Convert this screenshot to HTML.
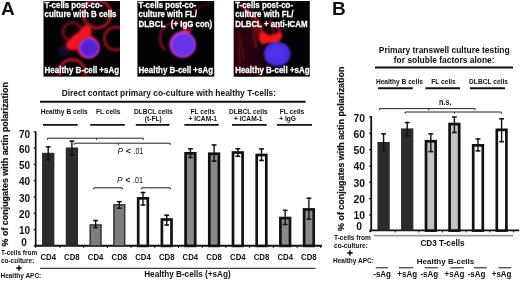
<!DOCTYPE html>
<html><head><meta charset="utf-8"><style>
html,body{margin:0;padding:0;background:#fff;width:520px;height:281px;overflow:hidden}
svg{display:block;font-family:"Liberation Sans", sans-serif;will-change:transform}
</style></head><body>
<svg width="520" height="281" viewBox="0 0 520 281">
<defs>
<filter id="b1" x="-50%" y="-50%" width="200%" height="200%"><feGaussianBlur stdDeviation="0.9"/></filter>
<filter id="b15" x="-50%" y="-50%" width="200%" height="200%"><feGaussianBlur stdDeviation="1.2"/></filter>
<filter id="b3g" x="-50%" y="-50%" width="200%" height="200%"><feGaussianBlur stdDeviation="2.5"/></filter>
<filter id="b2" x="-50%" y="-50%" width="200%" height="200%"><feGaussianBlur stdDeviation="1.6"/></filter>
<filter id="b3" x="-50%" y="-50%" width="200%" height="200%"><feGaussianBlur stdDeviation="6"/></filter>
<clipPath id="clip1"><rect x="43.5" y="1" width="76.5" height="75.6"/></clipPath>
<clipPath id="clip2"><rect x="137.4" y="1" width="76.8" height="75.6"/></clipPath>
<clipPath id="clip3"><rect x="233.8" y="1" width="76.0" height="75.6"/></clipPath>
</defs>
<rect x="43.5" y="1" width="76.5" height="75.6" fill="#050205"/>
<g clip-path="url(#clip1)">
<circle cx="72.2" cy="31.8" r="9.2" fill="none" stroke="#600e1c" stroke-width="3.3" filter="url(#b15)"/>
<circle cx="97" cy="14" r="13.8" fill="none" stroke="#961424" stroke-width="3.3" filter="url(#b15)"/>
<circle cx="115.8" cy="38.5" r="11.5" fill="none" stroke="#82101e" stroke-width="3.3" filter="url(#b15)"/>
<circle cx="72" cy="72.5" r="13" fill="none" stroke="#9a1426" stroke-width="3.3" filter="url(#b15)"/>
<circle cx="63.5" cy="51" r="6" fill="#0e0828" filter="url(#b2)"/>
<path d="M84.5 27.5 C87 27 89.5 28.5 89.5 31 C89.5 34 90 36.5 88 38.5 L83 40 C81 42.5 80.5 46 78 48 C75 49 71 48.5 69 47 C67.5 45.5 68 42.5 70 41 C72 39.5 74 36.5 76.5 35 C79 33.5 81 32 82 30 C82.5 28.5 83.5 27.7 84.5 27.5 Z" fill="#c01020" filter="url(#b3g)" opacity="0.8" transform="translate(80,40) scale(1.2) translate(-80,-40)"/>
<path d="M84.5 27.5 C87 27 89.5 28.5 89.5 31 C89.5 34 90 36.5 88 38.5 L83 40 C81 42.5 80.5 46 78 48 C75 49 71 48.5 69 47 C67.5 45.5 68 42.5 70 41 C72 39.5 74 36.5 76.5 35 C79 33.5 81 32 82 30 C82.5 28.5 83.5 27.7 84.5 27.5 Z" fill="#f01822" filter="url(#b1)" transform="translate(80,40) scale(1.15) translate(-80,-40)"/>
<circle cx="87.6" cy="46.8" r="11.2" fill="#d81626" filter="url(#b15)"/>
<circle cx="89.2" cy="47.9" r="10.4" fill="#c034cc" filter="url(#b1)"/>
<circle cx="89.3" cy="47.9" r="8.8" fill="#5420d4" filter="url(#b1)"/>
</g>
<rect x="137.4" y="1" width="76.79999999999998" height="75.6" fill="#050205"/>
<g clip-path="url(#clip2)">
<path d="M165 50 C159 45 159 35 163 29 C167 23 176 21 183 24 C187 26 190 28 192 31" fill="none" stroke="#6e0c26" stroke-width="2.8" filter="url(#b15)"/>
<path d="M192 12 C198 7 205 4 214 1" fill="none" stroke="#4a0818" stroke-width="2" filter="url(#b1)"/>
<ellipse cx="185.5" cy="32" rx="5" ry="3" fill="#c81a48" filter="url(#b15)"/>
<circle cx="182.6" cy="44.5" r="13.2" fill="#c838d0" filter="url(#b1)"/>
<circle cx="183.4" cy="45" r="11.2" fill="#6832ea" filter="url(#b1)"/>
</g>
<rect x="233.8" y="1" width="76.0" height="75.6" fill="#050205"/>
<g clip-path="url(#clip3)">
<rect x="226" y="24" width="36" height="58" fill="#2a050a" filter="url(#b3)"/>
<path d="M238 44 C239 52 240 60 240 70" fill="none" stroke="#4a0810" stroke-width="3.5" filter="url(#b2)"/>
<path d="M240 4 C246 9 253 15 258 22 C261 27 262 31 262 36" fill="none" stroke="#b00e1c" stroke-width="3.4" filter="url(#b2)"/>
<path d="M253 26 C254 33 255 40 256 48" fill="none" stroke="#6a0a14" stroke-width="3.2" filter="url(#b2)"/>
<path d="M238 30 C240 40 242 50 244 60" fill="none" stroke="#4a070e" stroke-width="3.2" filter="url(#b2)"/>
<path d="M276 25 C279 29 281 34 281 38" fill="none" stroke="#b00c1a" stroke-width="2.6" filter="url(#b1)"/>
<path d="M269 20 C271 25 273 30 274 35" fill="none" stroke="#900c18" stroke-width="2" filter="url(#b1)"/>
<path d="M255 27 C257 31 259 36 261 41" fill="none" stroke="#801018" stroke-width="2.6" filter="url(#b15)"/>
<path d="M259.5 35 C260 31 263.5 31 266 33.5 C269 35.5 274 35 277 32.5 C279 31 282 32 281.5 36 C281 40 279 43 276 44.5 C271 42.5 265.5 42.5 263 44.5 C260 43.5 259 39 259.5 35 Z" fill="#f0141c" filter="url(#b15)"/>
<ellipse cx="277.2" cy="54" rx="13.3" ry="12.2" fill="#4a2ee0" filter="url(#b1)"/>
<circle cx="276.5" cy="53" r="7" fill="#5038f0" filter="url(#b2)" opacity="0.7"/>
</g>
<text transform="translate(44.6,7.6) scale(1,1.12)" font-size="7.9" font-weight="bold" fill="#fff" stroke="#fff" stroke-width="0.25">T-cells post-co-</text>
<text transform="translate(44.6,17.1) scale(1,1.12)" font-size="7.9" font-weight="bold" fill="#fff" stroke="#fff" stroke-width="0.25">culture with B cells</text>
<text transform="translate(44.6,72.6) scale(1,1.12)" font-size="7.95" font-weight="bold" fill="#fff" stroke="#fff" stroke-width="0.25">Healthy B-cell +sAg</text>
<text transform="translate(138.6,7.6) scale(1,1.12)" font-size="7.9" font-weight="bold" fill="#fff" stroke="#fff" stroke-width="0.25">T-cells post-co-</text>
<text transform="translate(138.6,17.1) scale(1,1.12)" font-size="7.9" font-weight="bold" fill="#fff" stroke="#fff" stroke-width="0.25">culture with FL/</text>
<text transform="translate(138.6,26.6) scale(1,1.12)" font-size="7.9" font-weight="bold" fill="#fff" stroke="#fff" stroke-width="0.25">DLBCL</text>
<text transform="translate(138.6,72.6) scale(1,1.12)" font-size="7.95" font-weight="bold" fill="#fff" stroke="#fff" stroke-width="0.25">Healthy B-cell +sAg</text>
<text transform="translate(235.2,7.6) scale(1,1.12)" font-size="7.9" font-weight="bold" fill="#fff" stroke="#fff" stroke-width="0.25">T-cells post-co-</text>
<text transform="translate(235.2,17.1) scale(1,1.12)" font-size="7.9" font-weight="bold" fill="#fff" stroke="#fff" stroke-width="0.25">culture with FL/</text>
<text transform="translate(235.2,26.6) scale(1,1.12)" font-size="7.9" font-weight="bold" fill="#fff" stroke="#fff" stroke-width="0.25">DLBCL + anti-ICAM</text>
<text transform="translate(235.2,72.6) scale(1,1.12)" font-size="7.95" font-weight="bold" fill="#fff" stroke="#fff" stroke-width="0.25">Healthy B-cell +sAg</text>
<text transform="translate(170.8,26.6) scale(1,1.12)" font-size="7.9" font-weight="bold" fill="#fff" stroke="#fff" stroke-width="0.25">(+ IgG con)</text>
<text x="1.0" y="14.8" font-size="19.0" font-weight="bold" text-anchor="start" fill="#111" >A</text>
<text x="332.0" y="14.8" font-size="19.0" font-weight="bold" text-anchor="start" fill="#111" >B</text>
<line x1="35.7" y1="131.3" x2="35.7" y2="246.6" stroke="#111" stroke-width="1.7"/>
<line x1="33.7" y1="131.8" x2="35.7" y2="131.8" stroke="#111" stroke-width="1.2"/>
<text x="24.6" y="137.8" font-size="10" font-weight="bold" text-anchor="middle" fill="#111" >70</text>
<line x1="33.7" y1="148.10000000000002" x2="35.7" y2="148.10000000000002" stroke="#111" stroke-width="1.2"/>
<text x="24.6" y="152.70000000000002" font-size="10" font-weight="bold" text-anchor="middle" fill="#111" >60</text>
<line x1="33.7" y1="164.4" x2="35.7" y2="164.4" stroke="#111" stroke-width="1.2"/>
<text x="24.6" y="169.0" font-size="10" font-weight="bold" text-anchor="middle" fill="#111" >50</text>
<line x1="33.7" y1="180.70000000000002" x2="35.7" y2="180.70000000000002" stroke="#111" stroke-width="1.2"/>
<text x="24.6" y="185.3" font-size="10" font-weight="bold" text-anchor="middle" fill="#111" >40</text>
<line x1="33.7" y1="197.0" x2="35.7" y2="197.0" stroke="#111" stroke-width="1.2"/>
<text x="24.6" y="201.6" font-size="10" font-weight="bold" text-anchor="middle" fill="#111" >30</text>
<line x1="33.7" y1="213.3" x2="35.7" y2="213.3" stroke="#111" stroke-width="1.2"/>
<text x="24.6" y="217.9" font-size="10" font-weight="bold" text-anchor="middle" fill="#111" >20</text>
<line x1="33.7" y1="229.60000000000002" x2="35.7" y2="229.60000000000002" stroke="#111" stroke-width="1.2"/>
<text x="24.6" y="234.20000000000002" font-size="10" font-weight="bold" text-anchor="middle" fill="#111" >10</text>
<line x1="33.7" y1="245.90000000000003" x2="35.7" y2="245.90000000000003" stroke="#111" stroke-width="1.2"/>
<text x="24.0" y="245.9" font-size="10" font-weight="bold" text-anchor="middle" fill="#111" >0</text>
<line x1="34.8" y1="245.8" x2="322" y2="245.8" stroke="#111" stroke-width="1.9"/>
<line x1="60.0" y1="245.9" x2="60.0" y2="247.9" stroke="#111" stroke-width="1"/>
<line x1="83.7" y1="245.9" x2="83.7" y2="247.9" stroke="#111" stroke-width="1"/>
<line x1="107.4" y1="245.9" x2="107.4" y2="247.9" stroke="#111" stroke-width="1"/>
<line x1="131.1" y1="245.9" x2="131.1" y2="247.9" stroke="#111" stroke-width="1"/>
<line x1="154.8" y1="245.9" x2="154.8" y2="247.9" stroke="#111" stroke-width="1"/>
<line x1="178.5" y1="245.9" x2="178.5" y2="247.9" stroke="#111" stroke-width="1"/>
<line x1="202.2" y1="245.9" x2="202.2" y2="247.9" stroke="#111" stroke-width="1"/>
<line x1="225.9" y1="245.9" x2="225.9" y2="247.9" stroke="#111" stroke-width="1"/>
<line x1="249.6" y1="245.9" x2="249.6" y2="247.9" stroke="#111" stroke-width="1"/>
<line x1="273.29999999999995" y1="245.9" x2="273.29999999999995" y2="247.9" stroke="#111" stroke-width="1"/>
<line x1="297.0" y1="245.9" x2="297.0" y2="247.9" stroke="#111" stroke-width="1"/>
<line x1="320.7" y1="245.9" x2="320.7" y2="247.9" stroke="#111" stroke-width="1"/>
<line x1="35.6" y1="245.9" x2="35.6" y2="247.9" stroke="#111" stroke-width="1"/>
<rect x="42.050000000000004" y="152.8" width="12.3" height="93.1" fill="#2b2b2b"/>
<line x1="48.2" y1="146.1" x2="48.2" y2="160.6" stroke="#111" stroke-width="1.4"/>
<line x1="45.800000000000004" y1="146.85" x2="50.6" y2="146.85" stroke="#111" stroke-width="1.5"/>
<line x1="45.800000000000004" y1="159.85" x2="50.6" y2="159.85" stroke="#111" stroke-width="1.5"/>
<rect x="65.75" y="147.5" width="12.3" height="98.4" fill="#2b2b2b"/>
<line x1="71.9" y1="140.4" x2="71.9" y2="156" stroke="#111" stroke-width="1.4"/>
<line x1="69.5" y1="141.15" x2="74.30000000000001" y2="141.15" stroke="#111" stroke-width="1.5"/>
<line x1="69.5" y1="155.25" x2="74.30000000000001" y2="155.25" stroke="#111" stroke-width="1.5"/>
<rect x="90.19999999999999" y="224.95" width="10.8" height="20.950000000000017" fill="#7d7d7d" stroke="#333" stroke-width="1.5"/>
<line x1="95.6" y1="219.8" x2="95.6" y2="228.3" stroke="#111" stroke-width="1.4"/>
<line x1="93.19999999999999" y1="220.55" x2="98.0" y2="220.55" stroke="#111" stroke-width="1.5"/>
<line x1="93.19999999999999" y1="227.55" x2="98.0" y2="227.55" stroke="#111" stroke-width="1.5"/>
<rect x="113.89999999999999" y="204.85" width="10.8" height="41.05000000000001" fill="#7d7d7d" stroke="#333" stroke-width="1.5"/>
<line x1="119.3" y1="200.9" x2="119.3" y2="208.9" stroke="#111" stroke-width="1.4"/>
<line x1="116.89999999999999" y1="201.65" x2="121.7" y2="201.65" stroke="#111" stroke-width="1.5"/>
<line x1="116.89999999999999" y1="208.15" x2="121.7" y2="208.15" stroke="#111" stroke-width="1.5"/>
<rect x="138.2" y="198.35" width="9.600000000000001" height="47.550000000000004" fill="#fff" stroke="#111" stroke-width="2.7"/>
<line x1="143.0" y1="191.8" x2="143.0" y2="205.7" stroke="#111" stroke-width="1.4"/>
<line x1="140.6" y1="192.55" x2="145.4" y2="192.55" stroke="#111" stroke-width="1.5"/>
<line x1="140.6" y1="204.95" x2="145.4" y2="204.95" stroke="#111" stroke-width="1.5"/>
<rect x="161.89999999999998" y="219.54999999999998" width="9.600000000000001" height="26.350000000000016" fill="#fff" stroke="#111" stroke-width="2.7"/>
<line x1="166.7" y1="214.5" x2="166.7" y2="225.7" stroke="#111" stroke-width="1.4"/>
<line x1="164.29999999999998" y1="215.25" x2="169.1" y2="215.25" stroke="#111" stroke-width="1.5"/>
<line x1="164.29999999999998" y1="224.95" x2="169.1" y2="224.95" stroke="#111" stroke-width="1.5"/>
<rect x="185.59999999999997" y="153.35" width="9.600000000000001" height="92.55000000000001" fill="#8a8a8a" stroke="#111" stroke-width="2.7"/>
<line x1="190.39999999999998" y1="148" x2="190.39999999999998" y2="158.2" stroke="#111" stroke-width="1.4"/>
<line x1="187.99999999999997" y1="148.75" x2="192.79999999999998" y2="148.75" stroke="#111" stroke-width="1.5"/>
<line x1="187.99999999999997" y1="157.45" x2="192.79999999999998" y2="157.45" stroke="#111" stroke-width="1.5"/>
<rect x="209.3" y="153.75" width="9.600000000000001" height="92.15" fill="#8a8a8a" stroke="#111" stroke-width="2.7"/>
<line x1="214.10000000000002" y1="144.2" x2="214.10000000000002" y2="161.9" stroke="#111" stroke-width="1.4"/>
<line x1="211.70000000000002" y1="144.95" x2="216.50000000000003" y2="144.95" stroke="#111" stroke-width="1.5"/>
<line x1="211.70000000000002" y1="161.15" x2="216.50000000000003" y2="161.15" stroke="#111" stroke-width="1.5"/>
<rect x="233.0" y="152.54999999999998" width="9.600000000000001" height="93.35000000000002" fill="#fff" stroke="#111" stroke-width="2.7"/>
<line x1="237.8" y1="148" x2="237.8" y2="157" stroke="#111" stroke-width="1.4"/>
<line x1="235.4" y1="148.75" x2="240.20000000000002" y2="148.75" stroke="#111" stroke-width="1.5"/>
<line x1="235.4" y1="156.25" x2="240.20000000000002" y2="156.25" stroke="#111" stroke-width="1.5"/>
<rect x="256.7" y="155.04999999999998" width="9.600000000000001" height="90.85000000000002" fill="#fff" stroke="#111" stroke-width="2.7"/>
<line x1="261.5" y1="148.2" x2="261.5" y2="161.2" stroke="#111" stroke-width="1.4"/>
<line x1="259.1" y1="148.95" x2="263.9" y2="148.95" stroke="#111" stroke-width="1.5"/>
<line x1="259.1" y1="160.45" x2="263.9" y2="160.45" stroke="#111" stroke-width="1.5"/>
<rect x="280.40000000000003" y="218.04999999999998" width="9.600000000000001" height="27.850000000000016" fill="#8a8a8a" stroke="#111" stroke-width="2.7"/>
<line x1="285.2" y1="209.6" x2="285.2" y2="225.2" stroke="#111" stroke-width="1.4"/>
<line x1="282.8" y1="210.35" x2="287.59999999999997" y2="210.35" stroke="#111" stroke-width="1.5"/>
<line x1="282.8" y1="224.45" x2="287.59999999999997" y2="224.45" stroke="#111" stroke-width="1.5"/>
<rect x="304.1" y="209.45" width="9.600000000000001" height="36.45000000000001" fill="#8a8a8a" stroke="#111" stroke-width="2.7"/>
<line x1="308.9" y1="197.5" x2="308.9" y2="219.9" stroke="#111" stroke-width="1.4"/>
<line x1="306.5" y1="198.25" x2="311.29999999999995" y2="198.25" stroke="#111" stroke-width="1.5"/>
<line x1="306.5" y1="219.15" x2="311.29999999999995" y2="219.15" stroke="#111" stroke-width="1.5"/>
<path d="M47.6 139.79999999999998 V138.2 H143.3 V139.79999999999998" fill="none" stroke="#222" stroke-width="1"/>
<line x1="96.5" y1="138.2" x2="96.5" y2="139.79999999999998" stroke="#222" stroke-width="1"/>
<path d="M74.3 144.79999999999998 V143.2 H170.2 V144.79999999999998" fill="none" stroke="#222" stroke-width="1"/>
<line x1="118.5" y1="143.2" x2="118.5" y2="144.79999999999998" stroke="#222" stroke-width="1"/>
<path d="M93.8 189.4 V187.8 H122.3 V189.4" fill="none" stroke="#222" stroke-width="1"/>
<path d="M141.8 189.4 V187.8 H170.3 V189.4" fill="none" stroke="#222" stroke-width="1"/>
<text y="154.2" font-size="8.4" fill="#111"><tspan x="117.4" font-style="italic">P</tspan><tspan x="125.9" font-weight="bold">&lt;</tspan><tspan x="133.5" textLength="9.8" lengthAdjust="spacingAndGlyphs">.01</tspan></text>
<text y="183.1" font-size="8.4" fill="#111"><tspan x="117.0" font-style="italic">P</tspan><tspan x="125.5" font-weight="bold">&lt;</tspan><tspan x="133.1" textLength="9.8" lengthAdjust="spacingAndGlyphs">.01</tspan></text>
<text x="61.7" y="96.0" font-size="8.42" font-weight="bold" text-anchor="start" fill="#111" >Direct contact primary co-culture with healthy T-cells:</text>
<line x1="40" y1="101.7" x2="305.6" y2="101.7" stroke="#111" stroke-width="1.9"/>
<text x="64.2" y="113.5" font-size="6.62" font-weight="bold" text-anchor="middle" fill="#111" >Healthy B cells</text>
<text x="108.2" y="113.5" font-size="6.62" font-weight="bold" text-anchor="middle" fill="#111" >FL cells</text>
<text x="153.3" y="113.5" font-size="6.62" font-weight="bold" text-anchor="middle" fill="#111" >DLBCL cells</text>
<text x="153.3" y="121.0" font-size="6.62" font-weight="bold" text-anchor="middle" fill="#111" >(t-FL)</text>
<text x="202.8" y="113.5" font-size="6.62" font-weight="bold" text-anchor="middle" fill="#111" >FL cells</text>
<text x="202.8" y="121.0" font-size="6.62" font-weight="bold" text-anchor="middle" fill="#111" >+ ICAM-1</text>
<text x="248.3" y="113.5" font-size="6.62" font-weight="bold" text-anchor="middle" fill="#111" >DLBCL cells</text>
<text x="248.3" y="121.0" font-size="6.62" font-weight="bold" text-anchor="middle" fill="#111" >+ ICAM-1</text>
<text x="292.0" y="113.5" font-size="6.62" font-weight="bold" text-anchor="middle" fill="#111" >FL cells</text>
<text x="279.3" y="121.0" font-size="6.62" font-weight="bold" text-anchor="start" fill="#111" >+ IgG</text>
<line x1="43" y1="124.9" x2="77.7" y2="124.9" stroke="#111" stroke-width="1.9"/>
<line x1="90.2" y1="124.9" x2="124.8" y2="124.9" stroke="#111" stroke-width="1.9"/>
<line x1="135.8" y1="124.9" x2="169.6" y2="124.9" stroke="#111" stroke-width="1.9"/>
<line x1="184.4" y1="124.9" x2="218.7" y2="124.9" stroke="#111" stroke-width="1.9"/>
<line x1="232" y1="124.9" x2="266.7" y2="124.9" stroke="#111" stroke-width="1.9"/>
<line x1="277" y1="124.9" x2="312" y2="124.9" stroke="#111" stroke-width="1.9"/>
<text transform="translate(48.2,259.7) scale(1.0,1.13)" font-size="7.8" font-weight="bold" text-anchor="middle" fill="#111" >CD4</text>
<text transform="translate(71.9,259.7) scale(1.0,1.13)" font-size="7.8" font-weight="bold" text-anchor="middle" fill="#111" >CD8</text>
<text transform="translate(95.6,259.7) scale(1.0,1.13)" font-size="7.8" font-weight="bold" text-anchor="middle" fill="#111" >CD4</text>
<text transform="translate(119.3,259.7) scale(1.0,1.13)" font-size="7.8" font-weight="bold" text-anchor="middle" fill="#111" >CD8</text>
<text transform="translate(143.0,259.7) scale(1.0,1.13)" font-size="7.8" font-weight="bold" text-anchor="middle" fill="#111" >CD4</text>
<text transform="translate(166.7,259.7) scale(1.0,1.13)" font-size="7.8" font-weight="bold" text-anchor="middle" fill="#111" >CD8</text>
<text transform="translate(190.39999999999998,259.7) scale(1.0,1.13)" font-size="7.8" font-weight="bold" text-anchor="middle" fill="#111" >CD4</text>
<text transform="translate(214.10000000000002,259.7) scale(1.0,1.13)" font-size="7.8" font-weight="bold" text-anchor="middle" fill="#111" >CD8</text>
<text transform="translate(237.8,259.7) scale(1.0,1.13)" font-size="7.8" font-weight="bold" text-anchor="middle" fill="#111" >CD4</text>
<text transform="translate(261.5,259.7) scale(1.0,1.13)" font-size="7.8" font-weight="bold" text-anchor="middle" fill="#111" >CD8</text>
<text transform="translate(285.2,259.7) scale(1.0,1.13)" font-size="7.8" font-weight="bold" text-anchor="middle" fill="#111" >CD4</text>
<text transform="translate(308.9,259.7) scale(1.0,1.13)" font-size="7.8" font-weight="bold" text-anchor="middle" fill="#111" >CD8</text>
<line x1="40" y1="268.3" x2="315.5" y2="268.3" stroke="#111" stroke-width="1"/>
<text x="144.2" y="277.3" font-size="8.18" font-weight="bold" text-anchor="start" fill="#111" >Healthy B-cells (+sAg)</text>
<text x="0.9" y="254.8" font-size="6.47" font-weight="bold" text-anchor="start" fill="#111" >T-cells from</text>
<text x="0.9" y="262.6" font-size="6.47" font-weight="bold" text-anchor="start" fill="#111" >co-culture:</text>
<line x1="16.3" y1="268.1" x2="21.7" y2="268.1" stroke="#111" stroke-width="1.6"/>
<line x1="19" y1="265.4" x2="19" y2="270.8" stroke="#111" stroke-width="1.6"/>
<text x="0.5" y="277.5" font-size="6.48" font-weight="bold" text-anchor="start" fill="#111" >Healthy APC:</text>
<text transform="translate(8.4,246.4) rotate(-90)" font-size="8.8" font-weight="bold" fill="#111" stroke="#111" stroke-width="0.2" textLength="164.3" lengthAdjust="spacingAndGlyphs">% of conjugates with actin polarization</text>
<line x1="371.2" y1="116.2" x2="371.2" y2="231.2" stroke="#111" stroke-width="1.8"/>
<line x1="369.2" y1="116.9" x2="371.2" y2="116.9" stroke="#111" stroke-width="1.2"/>
<text x="359.3" y="122.10000000000001" font-size="10.4" font-weight="bold" text-anchor="middle" fill="#111" >70</text>
<line x1="369.2" y1="133.25" x2="371.2" y2="133.25" stroke="#111" stroke-width="1.2"/>
<text x="359.3" y="137.65" font-size="10.4" font-weight="bold" text-anchor="middle" fill="#111" >60</text>
<line x1="369.2" y1="149.60000000000002" x2="371.2" y2="149.60000000000002" stroke="#111" stroke-width="1.2"/>
<text x="359.3" y="154.00000000000003" font-size="10.4" font-weight="bold" text-anchor="middle" fill="#111" >50</text>
<line x1="369.2" y1="165.95000000000002" x2="371.2" y2="165.95000000000002" stroke="#111" stroke-width="1.2"/>
<text x="359.3" y="170.35000000000002" font-size="10.4" font-weight="bold" text-anchor="middle" fill="#111" >40</text>
<line x1="369.2" y1="182.3" x2="371.2" y2="182.3" stroke="#111" stroke-width="1.2"/>
<text x="359.3" y="186.70000000000002" font-size="10.4" font-weight="bold" text-anchor="middle" fill="#111" >30</text>
<line x1="369.2" y1="198.65" x2="371.2" y2="198.65" stroke="#111" stroke-width="1.2"/>
<text x="359.3" y="203.05" font-size="10.4" font-weight="bold" text-anchor="middle" fill="#111" >20</text>
<line x1="369.2" y1="215.0" x2="371.2" y2="215.0" stroke="#111" stroke-width="1.2"/>
<text x="359.3" y="219.4" font-size="10.4" font-weight="bold" text-anchor="middle" fill="#111" >10</text>
<line x1="369.2" y1="231.35000000000002" x2="371.2" y2="231.35000000000002" stroke="#111" stroke-width="1.2"/>
<text x="359.1" y="229.9" font-size="10.4" font-weight="bold" text-anchor="middle" fill="#111" >0</text>
<line x1="369.6" y1="230.3" x2="519.2" y2="230.3" stroke="#111" stroke-width="1.8"/>
<line x1="370.2" y1="230.3" x2="370.2" y2="232.4" stroke="#111" stroke-width="1"/>
<line x1="395.2" y1="230.3" x2="395.2" y2="232.4" stroke="#111" stroke-width="1"/>
<line x1="418.8" y1="230.3" x2="418.8" y2="232.4" stroke="#111" stroke-width="1"/>
<line x1="442.4" y1="230.3" x2="442.4" y2="232.4" stroke="#111" stroke-width="1"/>
<line x1="466.1" y1="230.3" x2="466.1" y2="232.4" stroke="#111" stroke-width="1"/>
<line x1="489.8" y1="230.3" x2="489.8" y2="232.4" stroke="#111" stroke-width="1"/>
<line x1="513.6" y1="230.3" x2="513.6" y2="232.4" stroke="#111" stroke-width="1"/>
<rect x="377.45000000000005" y="142" width="12.3" height="88.6" fill="#2b2b2b"/>
<line x1="383.6" y1="133.1" x2="383.6" y2="151.2" stroke="#111" stroke-width="1.4"/>
<line x1="381.20000000000005" y1="133.85" x2="386.0" y2="133.85" stroke="#111" stroke-width="1.5"/>
<line x1="381.20000000000005" y1="150.45" x2="386.0" y2="150.45" stroke="#111" stroke-width="1.5"/>
<rect x="401.05000000000007" y="128.4" width="12.3" height="102.19999999999999" fill="#2b2b2b"/>
<line x1="407.20000000000005" y1="121.8" x2="407.20000000000005" y2="136.7" stroke="#111" stroke-width="1.4"/>
<line x1="404.80000000000007" y1="122.55" x2="409.6" y2="122.55" stroke="#111" stroke-width="1.5"/>
<line x1="404.80000000000007" y1="135.95" x2="409.6" y2="135.95" stroke="#111" stroke-width="1.5"/>
<rect x="426.00000000000006" y="141.25" width="9.600000000000001" height="89.35" fill="#c4c4c4" stroke="#111" stroke-width="2.7"/>
<line x1="430.8" y1="133.1" x2="430.8" y2="152.3" stroke="#111" stroke-width="1.4"/>
<line x1="428.40000000000003" y1="133.85" x2="433.2" y2="133.85" stroke="#111" stroke-width="1.5"/>
<line x1="428.40000000000003" y1="151.55" x2="433.2" y2="151.55" stroke="#111" stroke-width="1.5"/>
<rect x="449.6000000000001" y="124.05" width="9.600000000000001" height="106.55" fill="#c4c4c4" stroke="#111" stroke-width="2.7"/>
<line x1="454.40000000000003" y1="116.3" x2="454.40000000000003" y2="133.2" stroke="#111" stroke-width="1.4"/>
<line x1="452.00000000000006" y1="117.05" x2="456.8" y2="117.05" stroke="#111" stroke-width="1.5"/>
<line x1="452.00000000000006" y1="132.45" x2="456.8" y2="132.45" stroke="#111" stroke-width="1.5"/>
<rect x="473.20000000000005" y="145.35" width="9.600000000000001" height="85.25" fill="#fff" stroke="#111" stroke-width="2.7"/>
<line x1="478.0" y1="138.2" x2="478.0" y2="151.6" stroke="#111" stroke-width="1.4"/>
<line x1="475.6" y1="138.95" x2="480.4" y2="138.95" stroke="#111" stroke-width="1.5"/>
<line x1="475.6" y1="150.85" x2="480.4" y2="150.85" stroke="#111" stroke-width="1.5"/>
<rect x="496.80000000000007" y="129.85" width="9.600000000000001" height="100.75" fill="#fff" stroke="#111" stroke-width="2.7"/>
<line x1="501.6" y1="118.1" x2="501.6" y2="142.4" stroke="#111" stroke-width="1.4"/>
<line x1="499.20000000000005" y1="118.85" x2="504.0" y2="118.85" stroke="#111" stroke-width="1.5"/>
<line x1="499.20000000000005" y1="141.65" x2="504.0" y2="141.65" stroke="#111" stroke-width="1.5"/>
<path d="M379.6 110.19999999999999 V108.6 H475.1 V110.19999999999999" fill="none" stroke="#222" stroke-width="1"/>
<line x1="428.7" y1="108.6" x2="428.7" y2="110.19999999999999" stroke="#222" stroke-width="1"/>
<path d="M405.2 113.6 V112.0 H501.3 V113.6" fill="none" stroke="#222" stroke-width="1"/>
<line x1="454.3" y1="112.0" x2="454.3" y2="113.6" stroke="#222" stroke-width="1"/>
<text transform="translate(438.9,104.6) scale(1.0,1.15)" font-size="7.3" font-weight="bold" text-anchor="start" fill="#111" >n.s.</text>
<text x="444.2" y="52.8" font-size="8.45" font-weight="bold" text-anchor="middle" fill="#111" >Primary transwell culture testing</text>
<text x="444.2" y="62.6" font-size="8.45" font-weight="bold" text-anchor="middle" fill="#111" >for soluble factors alone:</text>
<line x1="375" y1="67.5" x2="513" y2="67.5" stroke="#111" stroke-width="2"/>
<text x="399.4" y="84.2" font-size="6.62" font-weight="bold" text-anchor="middle" fill="#111" >Healthy B cells</text>
<text x="443.5" y="84.2" font-size="6.62" font-weight="bold" text-anchor="middle" fill="#111" >FL cells</text>
<text x="488.5" y="84.2" font-size="6.62" font-weight="bold" text-anchor="middle" fill="#111" >DLBCL cells</text>
<line x1="378" y1="88.3" x2="412.8" y2="88.3" stroke="#111" stroke-width="1.9"/>
<line x1="425.4" y1="88.3" x2="460" y2="88.3" stroke="#111" stroke-width="1.9"/>
<line x1="470" y1="88.3" x2="505" y2="88.3" stroke="#111" stroke-width="1.9"/>
<text transform="translate(343.7,230.9) rotate(-90)" font-size="8.8" font-weight="bold" fill="#111" stroke="#111" stroke-width="0.2" textLength="164.3" lengthAdjust="spacingAndGlyphs">% of conjugates with actin polarization</text>
<line x1="374" y1="235.7" x2="513.2" y2="235.7" stroke="#999" stroke-width="1.7"/>
<text x="442.5" y="245.8" font-size="8.18" font-weight="bold" text-anchor="middle" fill="#111" >CD3 T-cells</text>
<text x="334" y="240.0" font-size="6.57" font-weight="bold" text-anchor="start" fill="#111" >T-cells from</text>
<text x="334" y="247.5" font-size="6.57" font-weight="bold" text-anchor="start" fill="#111" >co-culture:</text>
<line x1="347.3" y1="252.9" x2="352.7" y2="252.9" stroke="#111" stroke-width="1.6"/>
<line x1="350" y1="250.2" x2="350" y2="255.6" stroke="#111" stroke-width="1.6"/>
<text x="333" y="262.9" font-size="6.49" font-weight="bold" text-anchor="start" fill="#111" >Healthy APC:</text>
<text x="445.5" y="264.0" font-size="8.04" font-weight="bold" text-anchor="middle" fill="#111" >Healthy B-cells</text>
<text transform="translate(382.1,277.0) scale(1.0,1.1)" font-size="8.0" font-weight="bold" text-anchor="middle" fill="#111" >-sAg</text>
<text transform="translate(407.20000000000005,277.0) scale(1.0,1.1)" font-size="8.0" font-weight="bold" text-anchor="middle" fill="#111" >+sAg</text>
<text transform="translate(429.3,277.0) scale(1.0,1.1)" font-size="8.0" font-weight="bold" text-anchor="middle" fill="#111" >-sAg</text>
<text transform="translate(454.40000000000003,277.0) scale(1.0,1.1)" font-size="8.0" font-weight="bold" text-anchor="middle" fill="#111" >+sAg</text>
<text transform="translate(476.5,277.0) scale(1.0,1.1)" font-size="8.0" font-weight="bold" text-anchor="middle" fill="#111" >-sAg</text>
<text transform="translate(501.6,277.0) scale(1.0,1.1)" font-size="8.0" font-weight="bold" text-anchor="middle" fill="#111" >+sAg</text>
<line x1="375.8" y1="267.8" x2="387.9" y2="267.8" stroke="#111" stroke-width="1"/>
<line x1="398.8" y1="267.8" x2="413.3" y2="267.8" stroke="#111" stroke-width="1"/>
<line x1="424.8" y1="267.8" x2="437.8" y2="267.8" stroke="#111" stroke-width="1"/>
<line x1="450.2" y1="267.8" x2="463.7" y2="267.8" stroke="#111" stroke-width="1"/>
<line x1="473.8" y1="267.8" x2="486.8" y2="267.8" stroke="#111" stroke-width="1"/>
<line x1="498.4" y1="267.8" x2="511.3" y2="267.8" stroke="#111" stroke-width="1"/>
</svg>
</body></html>
